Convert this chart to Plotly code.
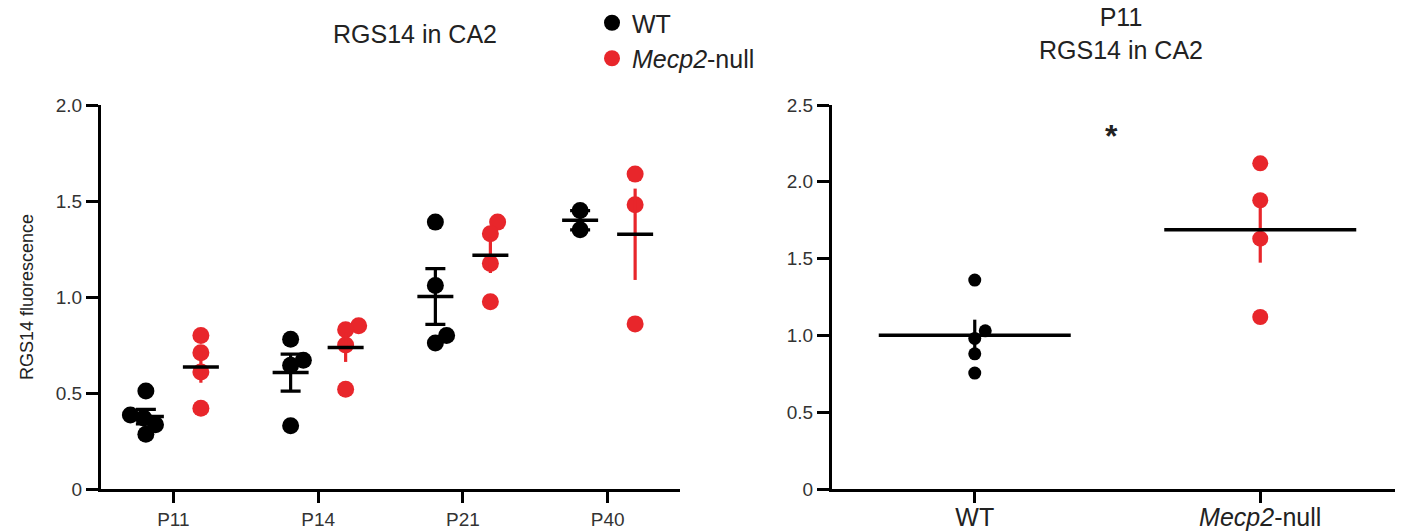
import numpy as np
import plotly.graph_objects as go

# ---------------- data ----------------
ages = ["P11", "P14", "P21", "P40"]
genotypes = ["WT", "Mecp2-null"]

wt_p11 = [0.51, 0.385, 0.37, 0.335, 0.285]
wt_p14 = [0.78, 0.67, 0.645, 0.33]
wt_p21 = [1.39, 1.06, 0.80, 0.76]
wt_p40 = [1.45, 1.35]

null_p11 = [0.80, 0.71, 0.61, 0.42]
null_p14 = [0.85, 0.83, 0.75, 0.52]
null_p21 = [1.39, 1.33, 1.175, 0.975]
null_p40 = [1.64, 1.48, 0.86]

p11_norm_wt = [1.36, 1.03, 0.98, 0.88, 0.755]
p11_norm_null = [2.12, 1.88, 1.63, 1.12]

left_yticks = [0, 0.5, 1.0, 1.5, 2.0]
left_yticktext = ["0", "0.5", "1.0", "1.5", "2.0"]
right_yticks = [0, 0.5, 1.0, 1.5, 2.0, 2.5]
right_yticktext = ["0", "0.5", "1.0", "1.5", "2.0", "2.5"]

# ---------------- style / layout constants ----------------
W, H = 1403, 532          # window size
PAGE_OFF = 8              # default body margin of the html page
FW, FH = W - PAGE_OFF, H - PAGE_OFF


def px_x(X):
    return (X - PAGE_OFF) / FW


def px_y(Y):
    return 1 - (Y - PAGE_OFF) / FH


L_X0, L_X1 = 101, 680
R_X0, R_X1 = 832, 1403
Y_TOP, Y_BOT = 105, 489
BLACK = "#000000"
RED = "#E8262B"
FONT = "Liberation Sans, Arial, sans-serif"
TICKCOL = "#333333"
TXTCOL = "#222222"

L_RANGE = [-0.5, 3.5]
R_RANGE = [-0.5, 1.5]
L_YR = [0, 2.0]
R_YR = [0, 2.5]
GROUP_OFF = 0.19

l_xpx = (L_X1 - L_X0) / (L_RANGE[1] - L_RANGE[0])
r_xpx = (R_X1 - R_X0) / (R_RANGE[1] - R_RANGE[0])
l_ypx = (Y_BOT - Y_TOP) / (L_YR[1] - L_YR[0])
r_ypx = (Y_BOT - Y_TOP) / (R_YR[1] - R_YR[0])


def swarm(values, diam, xpx, ypx):
    """Simple beeswarm: horizontal offsets (data units) so markers don't pile up."""
    order = sorted(range(len(values)), key=lambda i: values[i])
    placed = []
    offs = [0.0] * len(values)
    for i in order:
        y = values[i] * ypx
        forb = []
        for px, py in placed:
            dy = abs(y - py)
            if dy < diam:
                dx = (diam ** 2 - dy ** 2) ** 0.5
                forb.append((px - dx, px + dx))
        cands = [0.0] + [a for a, b in forb] + [b for a, b in forb]
        cands.sort(key=lambda c: (abs(c), -c))
        chosen = 0.0
        for c in cands:
            if all(not (a + 1e-6 < c < b - 1e-6) for a, b in forb):
                chosen = c
                break
        placed.append((chosen, y))
        offs[i] = chosen / xpx
    return offs


def mean_sem(v):
    v = np.asarray(v, dtype=float)
    return float(v.mean()), float(v.std(ddof=1) / np.sqrt(len(v)))


wt_by_age = [wt_p11, wt_p14, wt_p21, wt_p40]
null_by_age = [null_p11, null_p14, null_p21, null_p40]

fig = go.Figure()

# ---------------- left panel ----------------
L_MS = 17
L_HW = 18 / l_xpx
for gi, (name, groups, col) in enumerate([(genotypes[0], wt_by_age, BLACK),
                                           (genotypes[1], null_by_age, RED)]):
    off = -GROUP_OFF if gi == 0 else GROUP_OFF
    xs, ys = [], []
    for ai, vals in enumerate(groups):
        so = swarm(vals, L_MS * 0.8, l_xpx, l_ypx)
        xs += [ai + off + s for s in so]
        ys += list(vals)
    label = "WT" if gi == 0 else "<i>Mecp2</i>-null"
    fig.add_trace(go.Scatter(x=xs, y=ys, mode="markers", name=label,
                             marker=dict(size=L_MS, color=col, line=dict(width=0)),
                             cliponaxis=False, xaxis="x", yaxis="y"))

for gi, (groups, col, capw) in enumerate([(wt_by_age, BLACK, 10), (null_by_age, RED, 0)]):
    off = -GROUP_OFF if gi == 0 else GROUP_OFF
    cx, ms, ss = [], [], []
    for ai, vals in enumerate(groups):
        m, s = mean_sem(vals)
        cx.append(ai + off)
        ms.append(m)
        ss.append(s)
    fig.add_trace(go.Scatter(x=cx, y=ms, mode="markers", showlegend=False,
                             marker=dict(size=1, color="rgba(0,0,0,0)"),
                             error_y=dict(type="data", array=ss, visible=True,
                                          color=col, thickness=3.2, width=capw),
                             cliponaxis=False, xaxis="x", yaxis="y"))
    lx, ly = [], []
    for c, m in zip(cx, ms):
        lx += [c - L_HW, c + L_HW, None]
        ly += [m, m, None]
    fig.add_trace(go.Scatter(x=lx, y=ly, mode="lines", showlegend=False,
                             line=dict(color=BLACK, width=3.5),
                             cliponaxis=False, xaxis="x", yaxis="y"))

# ---------------- right panel ----------------
R_HW = 96 / r_xpx
for gi, (vals, col, msz) in enumerate([(p11_norm_wt, BLACK, 13), (p11_norm_null, RED, 16)]):
    so = swarm(vals, msz, r_xpx, r_ypx)
    fig.add_trace(go.Scatter(x=[gi + s for s in so], y=vals, mode="markers",
                             showlegend=False,
                             marker=dict(size=msz, color=col, line=dict(width=0)),
                             cliponaxis=False, xaxis="x2", yaxis="y2"))
for gi, (vals, col) in enumerate([(p11_norm_wt, BLACK), (p11_norm_null, RED)]):
    m, s = mean_sem(vals)
    fig.add_trace(go.Scatter(x=[gi], y=[m], mode="markers", showlegend=False,
                             marker=dict(size=1, color="rgba(0,0,0,0)"),
                             error_y=dict(type="data", array=[s], visible=True,
                                          color=col, thickness=3.2, width=0),
                             cliponaxis=False, xaxis="x2", yaxis="y2"))
    fig.add_trace(go.Scatter(x=[gi - R_HW, gi + R_HW], y=[m, m], mode="lines",
                             showlegend=False, line=dict(color=BLACK, width=3.5),
                             cliponaxis=False, xaxis="x2", yaxis="y2"))

# ---------------- layout ----------------
ydom = [px_y(Y_BOT), px_y(Y_TOP)]
axis_common = dict(showline=True, linecolor=BLACK, linewidth=3, ticks="outside",
                   tickcolor=BLACK, tickwidth=3, showgrid=False, zeroline=False,
                   automargin=False)
tf_small = dict(family=FONT, size=19, color=TICKCOL)

fig.update_layout(
    width=FW, height=FH,
    margin=dict(l=0, r=0, t=0, b=0, autoexpand=False),
    paper_bgcolor="white", plot_bgcolor="white",
    font=dict(family=FONT, color=TXTCOL),
    showlegend=True,
    legend=dict(x=px_x(592), y=1 + PAGE_OFF / FH, xanchor="left", yanchor="top",
                font=dict(family=FONT, size=25, color=TXTCOL),
                bgcolor="rgba(0,0,0,0)", itemsizing="trace"),
    xaxis=dict(domain=[px_x(L_X0), px_x(L_X1)], range=L_RANGE, tickmode="array",
               tickvals=list(range(len(ages))), ticktext=ages, ticklen=11,
               anchor="y", tickfont=tf_small, **axis_common),
    yaxis=dict(domain=ydom, range=L_YR, tickmode="array", tickvals=left_yticks,
               ticktext=left_yticktext, ticklen=12, anchor="x", tickfont=tf_small,
               title=dict(text="RGS14 fluorescence", standoff=18,
                          font=dict(family=FONT, size=18, color=TXTCOL)),
               **axis_common),
    xaxis2=dict(domain=[px_x(R_X0), 1.0], range=R_RANGE, tickmode="array",
                tickvals=[0, 1], ticktext=["WT", "<i>Mecp2</i>-null"], ticklen=11,
                ticklabelstandoff=-7,
                anchor="y2", tickfont=dict(family=FONT, size=25, color=TXTCOL),
                **axis_common),
    yaxis2=dict(domain=ydom, range=R_YR, tickmode="array", tickvals=right_yticks,
                ticktext=right_yticktext, ticklen=12, anchor="x2", tickfont=tf_small,
                **axis_common),
    annotations=[
        dict(text="RGS14 in CA2", x=px_x(415), y=px_y(34), xref="paper", yref="paper",
             xanchor="center", yanchor="middle", showarrow=False,
             font=dict(family=FONT, size=25, color=TXTCOL)),
        dict(text="P11<br>RGS14 in CA2", x=px_x(1121), y=px_y(33), xref="paper",
             yref="paper", xanchor="center", yanchor="middle", showarrow=False,
             font=dict(family=FONT, size=25, color=TXTCOL)),
        dict(text="<b>*</b>", x=0.48, y=2.3, xref="x2", yref="y2", xanchor="center",
             yanchor="middle", showarrow=False,
             font=dict(family=FONT, size=32, color=TXTCOL)),
    ],
)

fig.write_html("out.html")
